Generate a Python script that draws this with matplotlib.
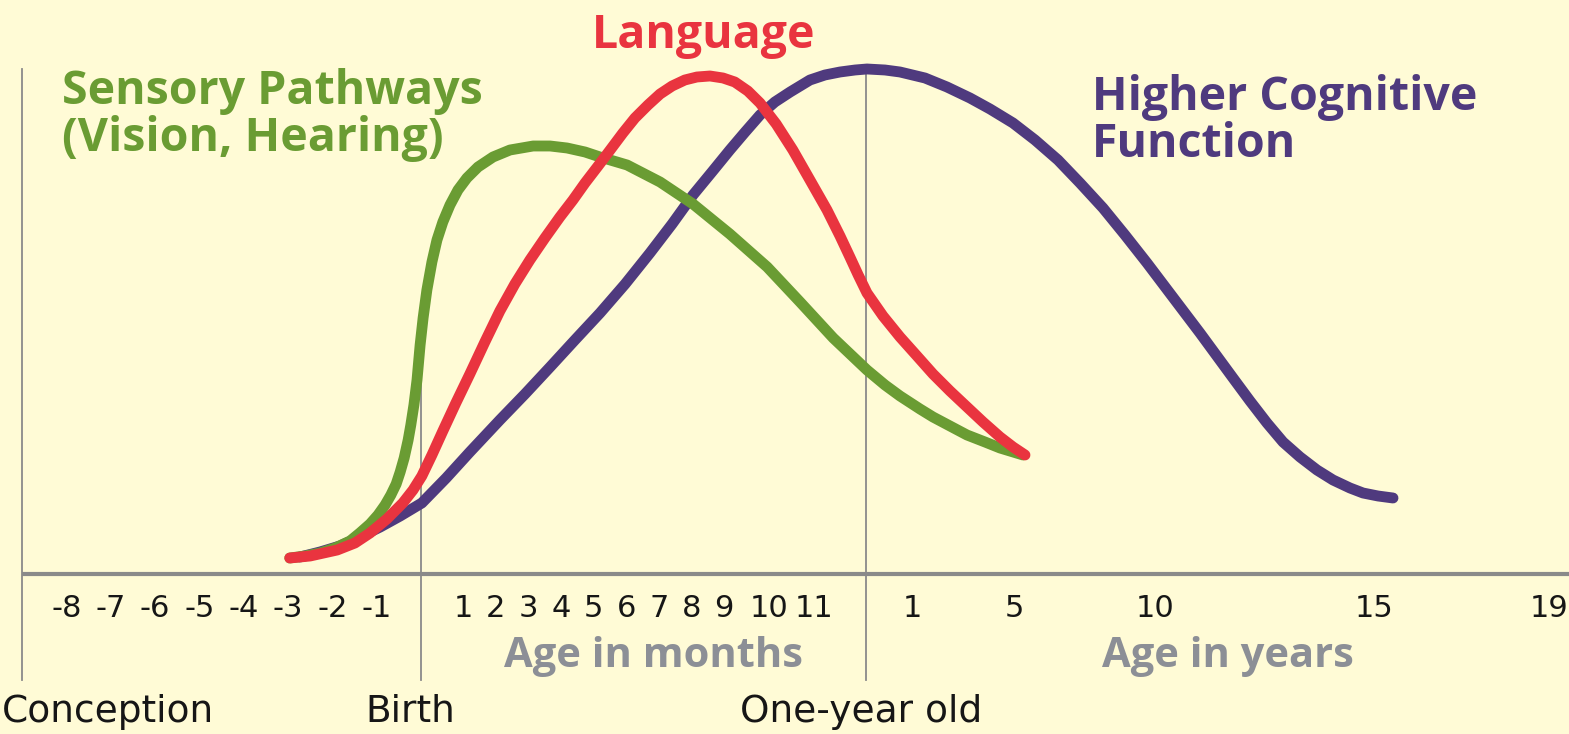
import numpy as np
import matplotlib
matplotlib.use("Agg")
import matplotlib.pyplot as plt
from matplotlib.transforms import offset_copy

# ages in months relative to birth (the years part is stored in months too)
sensory_age = [-2.96, -2.62, -2.28, -1.94, -1.60, -1.38, -1.15, -0.97, -0.81, -0.68,
               -0.56, -0.47, -0.38, -0.29, -0.23, -0.16, -0.09, -0.02, 0.05, 0.14,
               0.26, 0.38, 0.52, 0.69, 0.88, 1.12, 1.46, 1.92, 2.44, 3.15,
               3.67, 4.19, 4.74, 5.20, 6.03, 7.04, 8.05, 9.13, 9.96, 10.69,
               11.37, 12.32, 18.16, 23.03, 29.51, 33.73, 39.24, 44.76, 50.59, 55.46,
               63.83]
sensory_val = [3.2, 3.6, 4.2, 5.2, 6.6, 8.2, 10.0, 11.8, 13.8, 15.8,
               18.0, 20.4, 23.2, 26.8, 29.8, 33.8, 38.8, 45.8, 51.2, 56.8,
               62.4, 66.8, 70.4, 73.8, 76.8, 79.2, 81.4, 83.4, 84.8, 85.6,
               85.6, 85.2, 84.4, 83.4, 81.8, 78.4, 74.0, 68.0, 61.4, 54.4,
               47.2, 40.8, 37.8, 35.6, 33.0, 31.4, 29.6, 27.8, 26.4, 25.2,
               23.8]

language_age = [-2.96, -2.50, -1.89, -1.49, -1.15, -0.77, -0.41, -0.18, 0.02, 0.26,
                0.52, 0.83, 1.21, 1.67, 2.13, 2.59, 3.05, 3.51, 3.97, 4.37,
                4.74, 5.14, 5.51, 5.90, 6.27, 6.67, 7.04, 7.41, 7.80, 8.17,
                8.57, 8.97, 9.24, 9.53, 9.80, 10.16, 10.53, 10.91, 11.25, 11.50,
                11.69, 11.85, 12.32, 17.51, 23.03, 28.54, 33.73, 39.24, 44.76, 49.95,
                55.46, 59.68, 64.68]
language_val = [3.2, 3.6, 4.8, 6.2, 8.2, 11.0, 14.2, 16.8, 19.6, 23.8,
                28.6, 34.2, 40.0, 46.4, 52.6, 58.0, 62.8, 67.2, 71.4, 74.8,
                78.2, 81.6, 84.8, 88.2, 91.2, 93.8, 96.0, 97.6, 98.8, 99.4,
                99.6, 99.2, 98.4, 96.6, 94.2, 90.0, 84.8, 78.8, 72.8, 67.6,
                63.4, 59.8, 56.2, 51.6, 47.4, 43.6, 40.0, 36.6, 33.4, 30.4,
                27.4, 25.4, 23.8]

cognitive_age = [-2.73, -2.28, -1.83, -1.38, -0.92, -0.47, 0.02, 0.60, 1.21, 1.67,
                 2.13, 2.90, 3.67, 4.43, 5.20, 5.97, 6.73, 7.41, 8.05, 8.63,
                 9.13, 9.47, 9.80, 10.13, 10.47, 10.91, 11.21, 11.50, 11.79, 12.32,
                 18.16, 23.03, 31.13, 38.27, 45.73, 52.22, 59.68, 68.94, 78.72, 88.09,
                 97.87, 107.23, 116.60, 125.48, 132.33, 141.37, 146.03, 150.68, 155.07, 159.73,
                 164.38, 168.77, 173.42, 176.99, 181.07, 185.07]
cognitive_val = [3.4, 4.4, 5.6, 7.4, 9.4, 11.6, 14.2, 19.2, 24.4, 27.6,
                 30.8, 36.0, 41.4, 46.8, 52.2, 58.0, 64.2, 70.0, 75.8, 80.4,
                 84.8, 88.4, 91.8, 94.4, 96.4, 98.8, 99.8, 100.4, 100.8, 101.0,
                 100.8, 100.4, 99.2, 97.4, 95.2, 93.0, 90.2, 86.8, 82.8, 78.2,
                 73.2, 67.8, 62.2, 54.8, 48.2, 39.2, 34.6, 30.2, 26.4, 23.4,
                 20.8, 18.8, 17.2, 16.2, 15.6, 15.2]

prenatal_ticks = [-8, -7, -6, -5, -4, -3, -2, -1]
month_ticks = [1, 2, 3, 4, 5, 6, 7, 8, 9, 10, 11]
year_ticks = [1, 5, 10, 15, 19]

# the age axis is hand drawn, not to scale: piecewise layout
AGE_BP = [-12, -9, 0, 1, 9, 11, 12, 60, 120, 180, 228, 260]
PX_BP = [-111, 22, 421, 463, 724, 814, 866, 1014, 1155, 1374, 1554, 1674]

BG = "#FFFBD6"
GREEN = "#6A9C33"
RED = "#E9343F"
PURPLE = "#4F3A7E"
GREY = "#8C8F96"
LINE = "#8A8A8A"
INK = "#161616"

def fwd(x):
    return np.interp(x, AGE_BP, PX_BP)

def inv(x):
    return np.interp(x, PX_BP, AGE_BP)

fig = plt.figure(figsize=(15.69, 7.34), dpi=100, facecolor=BG)
ax = fig.add_axes([0, 0, 1, 1], facecolor=BG)
ax.set_xscale("function", functions=(fwd, inv))
ax.set_xlim(inv(0), inv(1569))
ax.set_ylim(-32, 114.8)
ax.axis("off")

# reference lines
ax.plot([-9, -9], [101, -21.2], color=LINE, lw=1.3, zorder=1)
ax.plot([0, 0], [40, -21.2], color=LINE, lw=1.3, zorder=1)
ax.plot([12, 12], [100.8, -21.2], color=LINE, lw=1.3, zorder=1)
ax.plot([-9, inv(1569)], [0, 0], color=LINE, lw=3, zorder=1, solid_capstyle="butt")

lw = 7.8
for ages, vals, col, z in [(cognitive_age, cognitive_val, PURPLE, 3),
                           (sensory_age, sensory_val, GREEN, 4),
                           (language_age, language_val, RED, 5)]:
    ax.plot(ages, vals, color=col, lw=lw, solid_capstyle="round",
            solid_joinstyle="round", zorder=z)

head = dict(family=["Open Sans", "DejaVu Sans"], fontweight="bold", fontsize=33.5,
            va="baseline")
ax.text(8.39, 105.2, "Language", color=RED, ha="center", **head)
ax.text(-8.1, 94.0, "Sensory Pathways", color=GREEN, ha="left", **head)
ax.text(-8.1, 84.6, "(Vision, Hearing)", color=GREEN, ha="left", **head)
ax.text(93.2, 92.8, "Higher Cognitive", color=PURPLE, ha="left", **head)
ax.text(93.2, 83.4, "Function", color=PURPLE, ha="left", **head)

tick = dict(family=["Liberation Sans Narrow", "DejaVu Sans"], fontsize=22,
            ha="center", va="baseline", color=INK)
for m in prenatal_ticks + month_ticks:
    ax.text(m, -8.6, str(m), **tick)
# year labels sit a little off their ticks in the drawing
year_shift = {1: 46, 19: -5}
for y in year_ticks:
    tr = offset_copy(ax.transData, fig=fig, x=year_shift.get(y, 0), y=0, units="dots")
    ax.text(12 * y, -8.6, str(y), transform=tr, **tick)

sub = dict(family=["Open Sans", "DejaVu Sans"], fontweight="bold", fontsize=30,
           color=GREY, ha="center", va="baseline")
ax.text(6.85, -18.6, "Age in months", **sub)
ax.text(140, -18.6, "Age in years", **sub)

bot = dict(family=["Liberation Sans Narrow", "DejaVu Sans"], fontsize=27,
           color=INK, va="center")
ax.text(0.001, -27.6, "Conception", transform=ax.get_yaxis_transform(), ha="left", **bot)
ax.text(-0.25, -27.6, "Birth", ha="center", **bot)
ax.text(11.9, -27.6, "One-year old", ha="center", **bot)

fig.savefig("out.png", dpi=100, facecolor=BG)
